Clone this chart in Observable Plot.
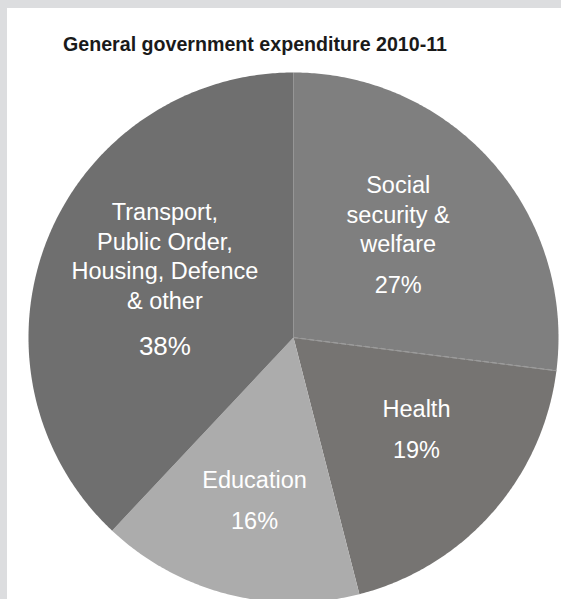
<!DOCTYPE html>
<html>
<head>
<meta charset="utf-8">
<script src="https://cdn.jsdelivr.net/npm/d3@7"></script>
<script src="https://cdn.jsdelivr.net/npm/@observablehq/plot@0.6"></script>
<style>
  html, body { margin: 0; padding: 0; background: #dcdddf; overflow: hidden; }
  #wrap { position: relative; width: 561px; height: 599px; }
  #panel { position: absolute; left: 7px; top: 8px; right: 0; bottom: 0; background: #ffffff; }
  #chart { position: absolute; left: 0; top: 0; }
  #title { position: absolute; left: 63px; top: 25px; }
  #title svg { display: block; overflow: visible; }
</style>
</head>
<body>
<div id="wrap">
  <div id="panel"></div>
  <div id="chart"></div>
  <div id="title"></div>
</div>
<script>
// ---- data ----
const title = "General government expenditure 2010-11";
const categories = ["Social security & welfare", "Health", "Education", "Transport, Public Order, Housing, Defence & other"];
const values = [27, 19, 16, 38];
const nameLines = [["Social", "security &", "welfare"], ["Health"], ["Education"], ["Transport,", "Public Order,", "Housing, Defence", "& other"]];
const pctLabels = ["27%", "19%", "16%", "38%"];

// ---- style / layout ----
const sliceColors = ["#7f7f7f", "#767472", "#acacac", "#6f6f6f"];
const W = 561, H = 599;
const cx = 293, cy = 337, R = 265;
const labelR = [146, 154, 168, 141];      // radius of label block centre
const labelDA = [-2.8, -4.4, -1, 2.6];    // angle tweak (deg) from slice mid-angle
const pctSize = [23.5, 23.5, 23.5, 26];
const nameSize = 23.5, lineH = 29.5;
const font = "'Liberation Sans', Arial, Helvetica, sans-serif";

const rows = categories.map((c, i) => ({category: c, value: values[i], lines: nameLines[i], pct: pctLabels[i], i}));
const arcs = d3.pie().sort(null).value(d => d.value)(rows);

const px = a => cx + R * Math.sin(a);
const py = a => cy - R * Math.cos(a);

// polygon outline for each slice
const poly = [];
arcs.forEach(a => {
  poly.push({category: a.data.category, x: cx, y: cy});
  const n = Math.max(2, Math.ceil((a.endAngle - a.startAngle) / (Math.PI / 360)));
  for (let k = 0; k <= n; k++) {
    const t = a.startAngle + (a.endAngle - a.startAngle) * k / n;
    poly.push({category: a.data.category, x: px(t), y: py(t)});
  }
  poly.push({category: a.data.category, x: cx, y: cy});
});

// boundary between first two slices (dashed)
const seam = [{x1: cx, y1: cy, x2: px(arcs[0].endAngle), y2: py(arcs[0].endAngle)}];

// labels
const textRows = [];
arcs.forEach((a, i) => {
  const mid = (a.startAngle + a.endAngle) / 2 + labelDA[i] * Math.PI / 180;
  const bx = cx + labelR[i] * Math.sin(mid);
  const by = cy - labelR[i] * Math.cos(mid);
  const lines = a.data.lines;
  const gap = pctSize[i] > nameSize ? 45 : 41;
  const blockH = (lines.length - 1) * lineH + gap;
  const y0 = by - blockH / 2;
  lines.forEach((t, k) => textRows.push({text: t, x: bx, y: y0 + k * lineH, size: nameSize}));
  textRows.push({text: a.data.pct, x: bx, y: y0 + (lines.length - 1) * lineH + gap, size: pctSize[i]});
});

const plot = Plot.plot({
  width: W,
  height: H,
  margin: 0,
  style: {background: "transparent", overflow: "hidden"},
  x: {domain: [0, W], range: [0, W], axis: null},
  y: {domain: [0, H], range: [0, H], axis: null},
  color: {domain: categories, range: sliceColors},
  marks: [
    Plot.line(poly, {x: "x", y: "y", z: "category", fill: "category", stroke: "none", curve: "linear"}),
    Plot.link(seam, {x1: "x1", y1: "y1", x2: "x2", y2: "y2", stroke: "#9b9b9b", strokeWidth: 1.5, strokeDasharray: "5,3"}),
    Plot.text(textRows.filter(d => d.size === nameSize), {x: "x", y: "y", text: "text", fill: "white", fontSize: nameSize, fontFamily: font, lineAnchor: "middle"}),
    Plot.text(textRows.filter(d => d.size !== nameSize), {x: "x", y: "y", text: "text", fill: "white", fontSize: d => d.size, fontFamily: font, lineAnchor: "middle"})
  ]
});
document.getElementById("chart").appendChild(plot);

// title as svg text fitted to measured width
const ts = d3.select("#title").append("svg").attr("width", 460).attr("height", 40);
ts.append("text")
  .attr("x", 0).attr("y", 26)
  .attr("textLength", 384).attr("lengthAdjust", "spacingAndGlyphs")
  .style("font-family", "'Liberation Sans Narrow', 'Liberation Sans', Arial, sans-serif")
  .style("font-weight", "bold").style("font-size", "21px").style("fill", "#1a1a1a")
  .text(title);
</script>
</body>
</html>
